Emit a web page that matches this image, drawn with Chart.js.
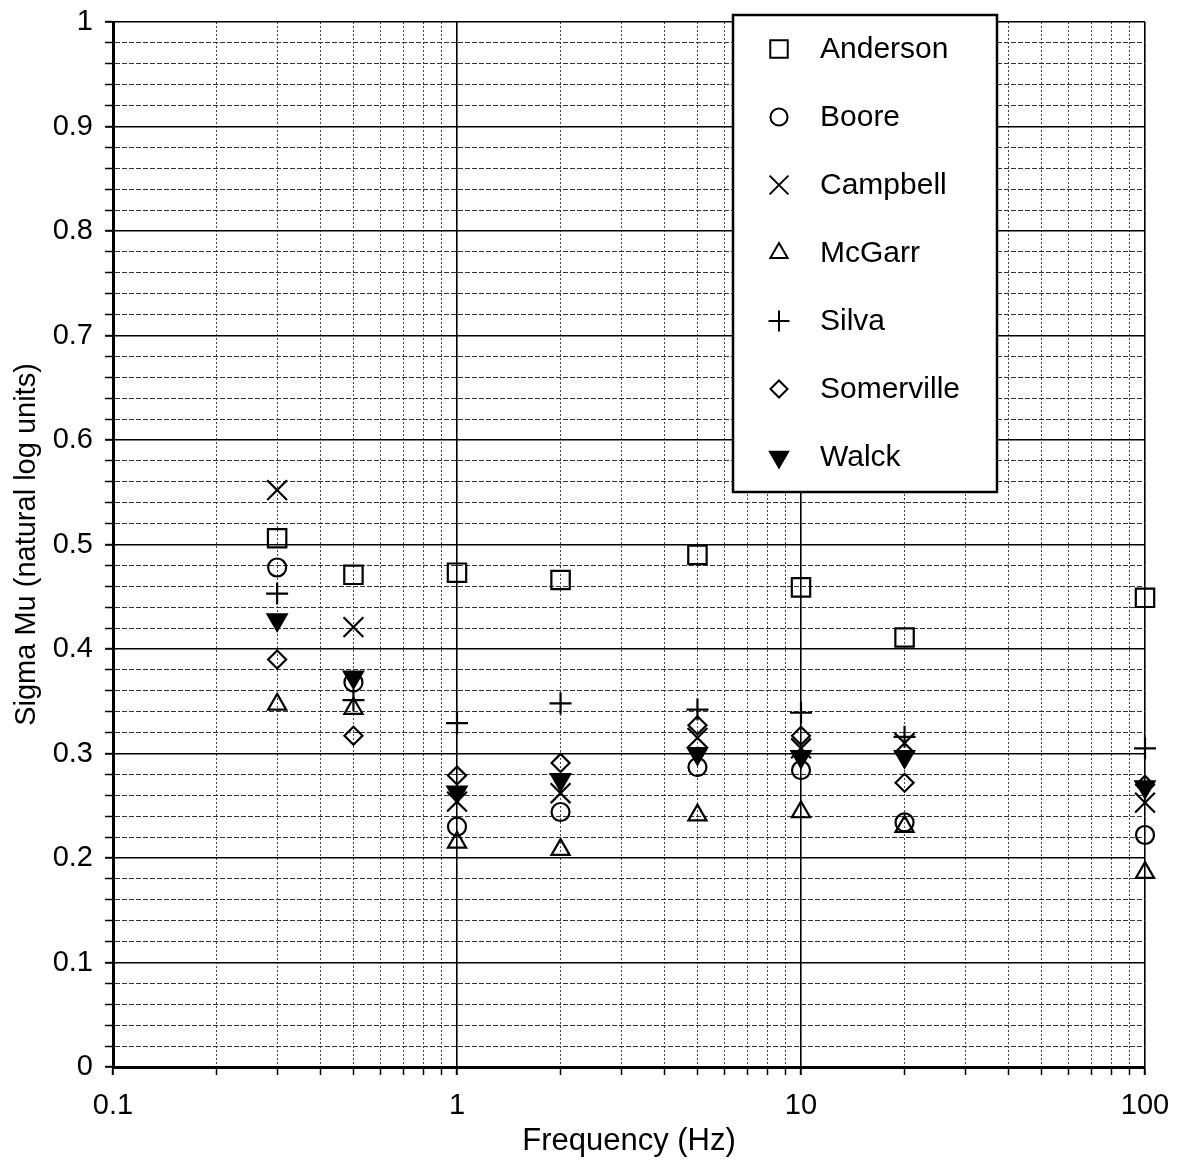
<!DOCTYPE html>
<html>
<head>
<meta charset="utf-8">
<script src="https://cdn.jsdelivr.net/npm/chart.js@4.4.0/dist/chart.umd.min.js"></script>
<style>
  html, body { margin: 0; padding: 0; background: #fff; }
  #wrap { width: 1181px; height: 1165px; }
</style>
</head>
<body>
<div id="wrap"><canvas id="grafica" width="1181" height="1165"></canvas></div>
<script>
// frecuencias (Hz)
var frecuencias = [0.3, 0.5, 1, 2, 5, 10, 20, 100];

// sigma mu por modelo
var anderson   = [0.506, 0.471, 0.473, 0.466, 0.490, 0.459, 0.411, 0.449];
var boore      = [0.478, 0.368, 0.230, 0.244, 0.287, 0.284, 0.234, 0.222];
var campbell   = [0.552, 0.421, 0.254, 0.262, 0.315, 0.305, 0.310, 0.253];
var mcgarr     = [0.347, 0.343, 0.215, 0.208, 0.241, 0.244, 0.230, 0.186];
var silva      = [0.453, 0.351, 0.329, 0.348, 0.342, 0.339, 0.316, 0.305];
var somerville = [0.390, 0.317, 0.279, 0.291, 0.327, 0.317, 0.272, 0.270];
var walck      = [0.428, 0.373, 0.263, 0.275, 0.300, 0.297, 0.297, 0.268];

var nombres = ['Anderson', 'Boore', 'Campbell', 'McGarr', 'Silva', 'Somerville', 'Walck'];

// etiquetas de ejes
var xDecadas = [0.1, 1, 10, 100];
var yMin = 0, yMax = 1, yPaso = 0.02;

var FUENTE = '"Liberation Sans", Arial, Helvetica, sans-serif';

var estilos = [
    { pointStyle: 'rect', radius: 13, rotation: 0, fill: false },
    { pointStyle: 'circle', radius: 9, rotation: 0, fill: false },
    { pointStyle: 'crossRot', radius: 14, rotation: 0, fill: false },
    { pointStyle: 'triangle', radius: 10.5, rotation: 0, fill: false },
    { pointStyle: 'cross', radius: 11, rotation: 0, fill: false },
    { pointStyle: 'rectRot', radius: 9, rotation: 0, fill: false },
    { pointStyle: 'triangle', radius: 11, rotation: 180, fill: true }
];

var series = [anderson, boore, campbell, mcgarr, silva, somerville, walck];

function armarDatos(valores) {
    return frecuencias.map(function (f, i) { return { x: f, y: valores[i] }; });
}

var datasets = series.map(function (valores, k) {
    var e = estilos[k];
    return {
        label: nombres[k],
        data: armarDatos(valores),
        pointStyle: e.pointStyle,
        pointRadius: e.radius,
        pointRotation: e.rotation,
        pointBorderWidth: 2.2,
        borderColor: '#000',
        backgroundColor: e.fill ? '#000' : 'rgba(0,0,0,0)',
        showLine: false,
        clip: false
    };
});

function esDecada(v) {
    var l = Math.log10(v);
    return Math.abs(l - Math.round(l)) < 1e-6;
}
function esMayorY(v) {
    return Math.abs(v * 10 - Math.round(v * 10)) < 1e-6;
}

// leyenda dibujada dentro del area del grafico
var leyendaPlugin = {
    id: 'leyendaCaja',
    afterDraw: function (chart) {
        var ctx = chart.ctx;
        var x0 = 733, y0 = 15, w = 264, h = 477;
        ctx.save();
        ctx.fillStyle = '#fff';
        ctx.fillRect(x0, y0, w, h);
        ctx.lineWidth = 2.5;
        ctx.strokeStyle = '#000';
        ctx.strokeRect(x0, y0, w, h);
        ctx.font = '30px ' + FUENTE;
        ctx.textBaseline = 'middle';
        ctx.textAlign = 'left';
        for (var k = 0; k < nombres.length; k++) {
            var cy = 49 + k * 68;
            var e = estilos[k];
            ctx.strokeStyle = '#000';
            ctx.fillStyle = e.fill ? '#000' : 'rgba(0,0,0,0)';
            ctx.lineWidth = 2;
            Chart.helpers.drawPoint(ctx, {
                pointStyle: e.pointStyle,
                radius: e.radius * 0.95,
                rotation: e.rotation,
                borderWidth: 2
            }, 779, cy);
            ctx.fillStyle = '#000';
            ctx.fillText(nombres[k], 820, cy + 1);
        }
        ctx.restore();
    }
};

var ctx = document.getElementById('grafica').getContext('2d');
var myChart = new Chart(ctx, {
    type: 'scatter',
    data: { datasets: datasets },
    plugins: [leyendaPlugin],
    options: {
        responsive: false,
        animation: false,
        events: [],
        layout: { autoPadding: false, padding: { left: 0, top: 22, right: 36, bottom: 0 } },
        plugins: {
            legend: { display: false },
            tooltip: { enabled: false }
        },
        scales: {
            x: {
                type: 'logarithmic',
                position: 'bottom',
                min: 0.1,
                max: 100,
                afterBuildTicks: function (scale) {
                    var t = [];
                    for (var d = 0; d < xDecadas.length; d++) {
                        var base = xDecadas[d];
                        if (d === xDecadas.length - 1) { t.push({ value: base }); break; }
                        for (var m = 1; m <= 9; m++) {
                            t.push({ value: +(base * m).toPrecision(6) });
                        }
                    }
                    scale.ticks = t;
                },
                afterFit: function (scale) {
                    scale.height = 98;
                    scale.paddingLeft = 0;
                    scale.paddingRight = 0;
                },
                ticks: {
                    autoSkip: false,
                    maxRotation: 0,
                    padding: 14,
                    color: '#000',
                    font: { family: FUENTE, size: 29 },
                    callback: function (v) { return esDecada(v) ? String(v) : ''; }
                },
                grid: {
                    color: function (c) { return c.tick && esDecada(c.tick.value) ? '#000' : '#444'; },
                    lineWidth: function (c) { return c.tick && esDecada(c.tick.value) ? 1.6 : 1; },
                    tickColor: '#000',
                    tickLength: 8,
                    tickWidth: function (c) { return c.tick && esDecada(c.tick.value) ? 2 : 1.5; }
                },
                border: {
                    display: true,
                    color: '#000',
                    width: 3,
                    dash: function (c) { return c.tick && !esDecada(c.tick.value) ? [2, 2] : []; }
                },
                title: {
                    display: true,
                    text: 'Frequency (Hz)',
                    color: '#000',
                    font: { family: FUENTE, size: 31 },
                    padding: { top: 0, bottom: 5 }
                }
            },
            y: {
                type: 'linear',
                position: 'left',
                min: yMin,
                max: yMax,
                afterBuildTicks: function (scale) {
                    var t = [];
                    var n = Math.round((yMax - yMin) / yPaso);
                    for (var i = 0; i <= n; i++) {
                        t.push({ value: +(yMin + i * yPaso).toFixed(2) });
                    }
                    scale.ticks = t;
                },
                afterFit: function (scale) {
                    scale.width = 113;
                    scale.paddingTop = 0;
                    scale.paddingBottom = 0;
                },
                ticks: {
                    autoSkip: false,
                    padding: 12,
                    color: '#000',
                    font: { family: FUENTE, size: 29 },
                    callback: function (v) { return esMayorY(v) ? String(Math.round(v * 10) / 10) : ''; }
                },
                grid: {
                    color: function (c) { return c.tick && esMayorY(c.tick.value) ? '#000' : '#333'; },
                    lineWidth: function (c) { return c.tick && esMayorY(c.tick.value) ? 1.6 : 1; },
                    tickColor: '#000',
                    tickLength: 8,
                    tickWidth: function (c) { return c.tick && esMayorY(c.tick.value) ? 2 : 1.5; }
                },
                border: {
                    display: true,
                    color: '#000',
                    width: 3,
                    dash: function (c) { return c.tick && !esMayorY(c.tick.value) ? [5, 2] : []; }
                },
                title: {
                    display: true,
                    text: 'Sigma Mu (natural log units)',
                    color: '#000',
                    font: { family: FUENTE, size: 29 },
                    padding: { top: 10, bottom: 0 }
                }
            }
        }
    }
});
</script>
</body>
</html>
